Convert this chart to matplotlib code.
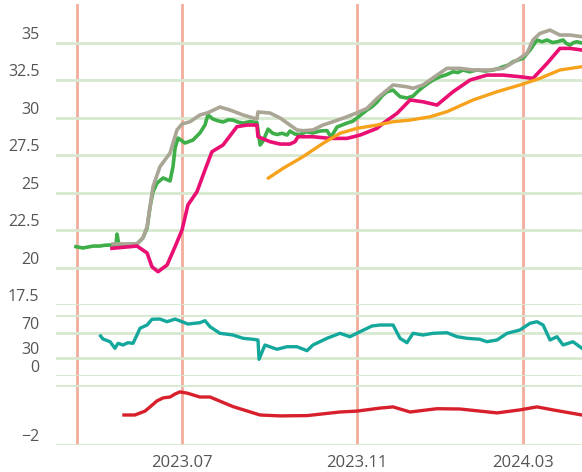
import matplotlib
matplotlib.use("Agg")
import matplotlib.pyplot as plt

plt.rcParams['font.family'] = ['Open Sans', 'DejaVu Sans']

# x = trading-day index
price_x = [9.5, 12.8, 15, 17.6, 20.9, 23, 25.7, 28.5, 29, 29.9, 34.2, 38.5, 41.3, 43.3, 44.7, 46.1, 48,
           50.9, 54.2, 55.6, 56.6, 58, 61.3, 65.1, 68.4, 70.8, 72.2, 74.6, 77, 79.4, 82, 84.1, 86.5,
           88.9, 92.2, 95.5, 97, 98.4, 100.8, 103, 105, 107.5, 109.8, 111.2, 113.5, 116, 119, 122.1,
           125.5, 128.8, 130.7, 133.6, 136, 138.3, 141, 143.1, 145.5, 147.8, 150, 152.6, 155, 157.3,
           160.2, 163.5, 166.8, 169.7, 172, 174.4, 177, 179.2, 182.5, 185.5, 188.7, 191, 193.4, 196.5,
           200.1, 204, 207.7, 210, 212.5, 215, 217.2, 220, 222, 225.3, 228.6, 231, 233.4, 236, 238.1,
           241, 242.5, 244.3, 246, 247.6, 250]
price = [21.39, 21.3, 21.36, 21.43, 21.43, 21.48, 21.5, 21.5, 22.23, 21.5, 21.53, 21.57, 21.97, 22.63, 24.05,
         25.05, 25.63, 25.97, 25.77, 26.72, 27.97, 28.63, 28.3, 28.5, 28.97, 29.5, 30.17, 29.9, 29.78,
         29.7, 29.85, 29.83, 29.7, 29.63, 29.73, 29.67, 28.17, 28.43, 29.23, 28.95, 28.87, 28.95, 28.83,
         29.1, 28.9, 28.87, 29.05, 28.97, 29.1, 29.13, 28.7, 29.37, 29.5, 29.63, 29.75, 29.97, 30.25, 30.5,
         30.7, 31.03, 31.45, 31.72, 31.83, 31.39, 31.3, 31.43, 31.75, 32.03, 32.3, 32.5, 32.72, 32.85,
         33.05, 33.0, 33.17, 33.05, 33.17, 33.1, 33.17, 33.25, 33.39, 33.5, 33.72, 33.85, 33.95, 34.5,
         35.17, 35.05, 35.17, 35.0, 35.05, 35.17, 34.95, 34.83, 35.0, 35.05, 34.97]

high_x = [27.1, 38.5, 41.3, 43.3, 46.1, 49.4, 54.2, 57.5, 59.9, 63.7, 68.4, 72.2, 77.9, 82.7, 88.9, 95.5,
          96, 101.7, 106.5, 111.2, 114.5, 117.4, 122.1, 126.9, 131.7, 138.3, 143.1, 147.8, 152.6, 156.4,
          160.2, 166.8, 169.7, 174.4, 181.1, 185.8, 192, 198.2, 206.3, 212.5, 219.1, 223.9, 226.7, 230,
          234.8, 239.5, 244.3, 250]
high = [21.57, 21.57, 21.97, 22.72, 25.39, 26.72, 27.63, 29.17, 29.57, 29.72, 30.17, 30.32, 30.7, 30.5,
        30.17, 29.9, 30.37, 30.3, 29.97, 29.5, 29.17, 29.12, 29.17, 29.5, 29.72, 30.05, 30.32, 30.61,
        31.28, 31.72, 32.17, 32.05, 31.95, 32.17, 32.83, 33.28, 33.28, 33.17, 33.17, 33.28, 33.83, 34.28,
        35.17, 35.61, 35.83, 35.5, 35.5, 35.39]

ma_x = [26.6, 38.5, 43.3, 45.6, 48.5, 52.8, 56.6, 59.9, 62.7, 67, 70.8, 74.1, 79.4, 86, 90.8, 95.5, 96,
        101.7, 106.5, 111.2, 113.6, 115, 122.1, 130.2, 138.3, 144.5, 152.6, 155.4, 162.1, 168.3, 174.4,
        181.1, 188.7, 196.8, 204.8, 212.5, 220.5, 226.7, 233.4, 239.5, 244.3, 250]
ma = [21.28, 21.43, 20.97, 20.05, 19.72, 20.17, 21.39, 22.5, 24.17, 25.05, 26.5, 27.72, 28.17, 29.39,
      29.5, 29.5, 28.72, 28.39, 28.23, 28.23, 28.39, 28.72, 28.72, 28.61, 28.61, 28.83, 29.28, 29.61,
      30.28, 31.17, 31.05, 30.83, 31.72, 32.5, 32.83, 32.83, 32.72, 32.61, 33.61, 34.61, 34.61, 34.5]

long_ma_x = [100.8, 107.9, 117.4, 126.9, 135, 143.1, 152.6, 160.2, 168.3, 177.8, 185.8, 198.2, 209.6,
             220.5, 230, 239.5, 250]
long_ma = [25.95, 26.61, 27.39, 28.28, 28.95, 29.28, 29.5, 29.72, 29.83, 30.05, 30.39, 31.17, 31.72,
           32.17, 32.61, 33.17, 33.39]

osc_x = [21.2, 22.3, 25.7, 28, 29.5, 31.8, 34.2, 36.6, 38.5, 39.9, 43.3, 45.6, 49.4, 52.8, 56.6, 59.9,
         62.7, 68.4, 70.8, 73.2, 77.9, 84.1, 88.9, 93.6, 96, 96.5, 99.3, 105, 109.8, 114.5, 119.3, 122.1,
         128.8, 135, 139.7, 144.5, 150.2, 154, 160.2, 163.5, 166.8, 169.7, 174.4, 179.2, 185.8, 190.6,
         195.3, 201.5, 204.8, 209.6, 214.4, 220.5, 225.3, 228.6, 231.5, 234.8, 238.1, 241, 245.7, 250]
osc = [65.6, 60.7, 56.2, 45.4, 53.6, 50.8, 54.6, 53.6, 67.2, 78.2, 83.6, 93, 93.4, 89, 93.4, 89, 85.2,
       87.4, 90.7, 80.8, 70, 67.2, 61.8, 60.2, 59, 27.4, 50.8, 43.8, 48, 48, 41.5, 50.8, 61.8, 70, 64.4,
       72.6, 82, 83.6, 83.6, 61.8, 54.6, 70, 67.2, 70, 71, 64.4, 61.8, 60.2, 56.2, 59, 70, 75.4, 86.4,
       89, 83.6, 59, 64.4, 50.8, 56.2, 45.4]

macd_x = [32.3, 37.5, 42.3, 44.7, 48, 50.9, 54.2, 56.6, 58.9, 62.3, 68.4, 73.2, 84.1, 97, 106.5, 119.3,
          135, 143.1, 154, 160.2, 168.3, 181.1, 192, 209.6, 220.5, 228.6, 236.2, 244.3, 250]
macd = [-1.0, -1.0, -0.87, -0.73, -0.53, -0.43, -0.4, -0.3, -0.23, -0.27, -0.4, -0.4, -0.72, -1.0, -1.03,
        -1.02, -0.9, -0.87, -0.77, -0.73, -0.9, -0.79, -0.8, -0.93, -0.83, -0.73, -0.83, -0.93, -1.0]

month_lines = [10, 60, 143, 222]
month_ticks = [60, 143, 222]
month_labels = ['2023.07', '2023.11', '2024.03']

price_ticks = [17.5, 20, 22.5, 25, 27.5, 30, 32.5, 35]
price_labels = ['17.5', '20', '22.5', '25', '27.5', '30', '32.5', '35']
osc_ticks = [0, 30, 70]
osc_grid = [0, 30, 70, 100]
macd_ticks = [-2]

grid_c = '#d6e8d0'
vline_c = '#f2ad9c'
text_c = '#555555'

fig = plt.figure(figsize=(5.82, 4.72), dpi=100)
left, width = 56 / 582, 526 / 582

bg = fig.add_axes([left, 1 - 445 / 472, width, 441 / 472], zorder=0)
bg.set_xlim(0, 250)
bg.set_ylim(0, 1)
for x in month_lines:
    bg.axvline(x, color=vline_c, lw=2)
bg.axis('off')

ax1 = fig.add_axes([left, 1 - 305 / 472, width, 301 / 472], zorder=1)
ax2 = fig.add_axes([left, 1 - 376 / 472, width, 61 / 472], zorder=1)
ax3 = fig.add_axes([left, 1 - 445 / 472, width, 60 / 472], zorder=1)

for ax in (ax1, ax2, ax3):
    ax.set_facecolor('none')
    ax.set_xlim(0, 250)
    for s in ax.spines.values():
        s.set_visible(False)
    ax.tick_params(length=0, labelsize=11.5, colors=text_c, pad=12)
    ax.set_xticks([])

ax1.set_ylim(17.5, 37.57)
for v in price_ticks:
    ax1.axhline(v, color=grid_c, lw=2, zorder=0)
ax1.set_yticks(price_ticks)
ax1.set_yticklabels(price_labels)
ax1.plot(price_x, price, color='#3eae48', lw=2.6, zorder=2)
ax1.plot(high_x, high, color='#aaa594', lw=2.6, zorder=3)
ax1.plot(ma_x, ma, color='#ea0f72', lw=2.6, zorder=4)
ax1.plot(long_ma_x, long_ma, color='#f7a21c', lw=2.4, zorder=5, solid_capstyle='round')

ax2.set_ylim(0, 100)
for v in osc_grid:
    ax2.axhline(v, color=grid_c, lw=2, zorder=0)
ax2.set_yticks(osc_ticks)
ax2.plot(osc_x, osc, color='#14a79c', lw=2.4, zorder=2)

ax3.set_ylim(-2, 0)
for v in (-2, 0):
    ax3.axhline(v, color=grid_c, lw=2, zorder=0)
ax3.set_yticks(macd_ticks)
ax3.set_yticklabels(['\u22122'])
ax3.plot(macd_x, macd, color='#d7202b', lw=2.4, zorder=2)
ax3.set_xticks(month_ticks)
ax3.set_xticklabels(month_labels, fontsize=12)
ax3.tick_params(axis='x', pad=7)

for ax in (ax1, ax2, ax3):
    for lab in ax.get_yticklabels():
        lab.set_verticalalignment('bottom')

fig.savefig('out.png', dpi=100)
